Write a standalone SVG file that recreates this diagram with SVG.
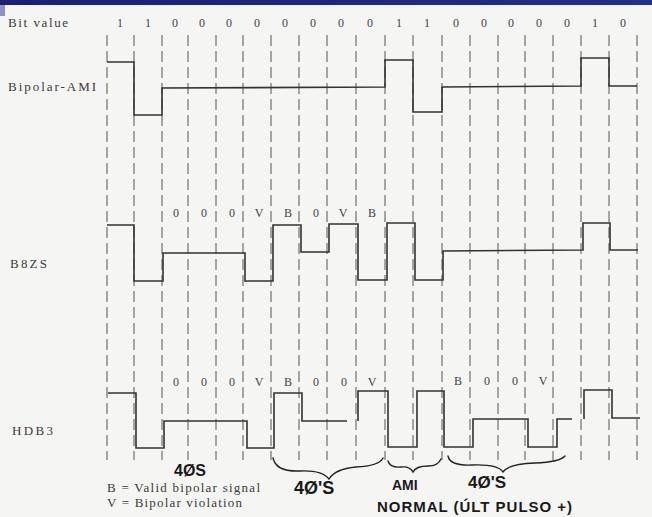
<svg xmlns="http://www.w3.org/2000/svg" width="652" height="517" viewBox="0 0 652 517">
  <defs>
    <linearGradient id="hdr" x1="0" y1="0" x2="1" y2="0">
      <stop offset="0" stop-color="#1b1f6e"/>
      <stop offset="1" stop-color="#23307f"/>
    </linearGradient>
    <style>
      .lbl{font-family:"Liberation Serif","DejaVu Serif",serif;font-size:13px;fill:#3a3a3a}
      .bit{font-family:"Liberation Serif","DejaVu Serif",serif;font-size:12px;fill:#444;text-anchor:middle}
      .grid line{stroke:#555;stroke-width:1;stroke-dasharray:11 5}
      .wave{fill:none;stroke:#333;stroke-width:1.6;stroke-linejoin:miter}
      .hand{font-family:"Liberation Sans","DejaVu Sans",sans-serif;fill:#1a1a1a;font-weight:bold}
      .brace{fill:none;stroke:#222;stroke-width:1.4;stroke-linecap:round}
    </style>
  </defs>
  <rect x="0" y="0" width="652" height="517" fill="#f5f5f3"/>
  <g id="header">
    <rect x="0" y="0" width="652" height="5" fill="url(#hdr)"/>
    <rect x="0" y="5" width="5" height="11" fill="#8a92c4"/>
  </g>

  <g id="bit-values">
    <text class="lbl" x="8" y="27" textLength="60">Bit value</text>
    <text class="bit" x="120" y="27">1</text>
    <text class="bit" x="148" y="27">1</text>
    <text class="bit" x="175" y="27">0</text>
    <text class="bit" x="202" y="27">0</text>
    <text class="bit" x="229" y="27">0</text>
    <text class="bit" x="257" y="27">0</text>
    <text class="bit" x="285" y="27">0</text>
    <text class="bit" x="313" y="27">0</text>
    <text class="bit" x="341" y="27">0</text>
    <text class="bit" x="370" y="27">0</text>
    <text class="bit" x="399" y="27">1</text>
    <text class="bit" x="427" y="27">1</text>
    <text class="bit" x="456" y="27">0</text>
    <text class="bit" x="484" y="27">0</text>
    <text class="bit" x="511" y="27">0</text>
    <text class="bit" x="539" y="27">0</text>
    <text class="bit" x="567" y="27">0</text>
    <text class="bit" x="595" y="27">1</text>
    <text class="bit" x="623" y="27">0</text>
  </g>

  <g id="grid" class="grid">
    <line x1="107" y1="35" x2="107" y2="460"/>
    <line x1="134" y1="35" x2="134" y2="460"/>
    <line x1="162" y1="35" x2="162" y2="460"/>
    <line x1="188" y1="35" x2="188" y2="460"/>
    <line x1="216" y1="35" x2="216" y2="460"/>
    <line x1="243" y1="35" x2="243" y2="460"/>
    <line x1="271" y1="35" x2="271" y2="460"/>
    <line x1="299" y1="35" x2="299" y2="460"/>
    <line x1="327" y1="35" x2="327" y2="460"/>
    <line x1="356" y1="35" x2="356" y2="460"/>
    <line x1="385" y1="35" x2="385" y2="460"/>
    <line x1="413" y1="35" x2="413" y2="460"/>
    <line x1="442" y1="35" x2="442" y2="460"/>
    <line x1="470" y1="35" x2="470" y2="460"/>
    <line x1="498" y1="35" x2="498" y2="460"/>
    <line x1="525" y1="35" x2="525" y2="460"/>
    <line x1="553" y1="35" x2="553" y2="460"/>
    <line x1="581" y1="35" x2="581" y2="460"/>
    <line x1="609" y1="35" x2="609" y2="460"/>
    <line x1="637" y1="35" x2="637" y2="460"/>
  </g>

  <g id="ami">
    <text class="lbl" x="8" y="91" textLength="88">Bipolar-AMI</text>
    <polyline class="wave" points="107,62 134,62 134,115 162,115 162,88 385,87 385,60 413,60 413,112 442,112 442,87 581,86 581,58 609,58 609,86 637,86"/>
  </g>

  <g id="b8zs">
    <text class="lbl" x="10" y="268" textLength="37">B8ZS</text>
    <text class="bit" x="176" y="217">0</text>
    <text class="bit" x="204" y="217">0</text>
    <text class="bit" x="232" y="217">0</text>
    <text class="bit" x="259" y="217">V</text>
    <text class="bit" x="288" y="217">B</text>
    <text class="bit" x="316" y="217">0</text>
    <text class="bit" x="343" y="217">V</text>
    <text class="bit" x="372" y="217">B</text>
    <polyline class="wave" points="107,225 134,225 134,281 163,281 163,253 245,253 245,281 273,281 273,225 301,225 301,252 329,252 329,224 358,224 358,280 387,280 387,223 415,223 415,280 443,280 443,251 583,250 583,223 610,223 610,250 638,250"/>
  </g>

  <g id="hdb3">
    <text class="lbl" x="12" y="435" textLength="41">HDB3</text>
    <text class="bit" x="176" y="386">0</text>
    <text class="bit" x="204" y="386">0</text>
    <text class="bit" x="232" y="386">0</text>
    <text class="bit" x="259" y="386">V</text>
    <text class="bit" x="288" y="386">B</text>
    <text class="bit" x="316" y="386">0</text>
    <text class="bit" x="344" y="386">0</text>
    <text class="bit" x="372" y="386">V</text>
    <text class="bit" x="458" y="385">B</text>
    <text class="bit" x="487" y="385">0</text>
    <text class="bit" x="515" y="385">0</text>
    <text class="bit" x="543" y="385">V</text>
    <polyline class="wave" points="108,393 136,393 136,448 164,448 164,421 247,421 247,448 274,448 274,393 302,393 302,421 347,421"/>
    <polyline class="wave" points="358,421 358,391 388,391 388,447 417,447 417,391 444,391 444,447 473,447 473,419 528,419 528,447 557,447 557,419 572,419"/>
    <polyline class="wave" points="584,419 584,390 612,390 612,418 640,418"/>
  </g>

  <g id="legend">
    <text class="lbl" x="107" y="492" textLength="153">B = Valid bipolar signal</text>
    <text class="lbl" x="107" y="507" textLength="135">V = Bipolar violation</text>
  </g>

  <g id="annotations">
    <path class="brace" d="M273,458 Q276,472 300,471 Q322,470 329,479 Q335,469 356,467 Q379,466 383,458"/>
    <path class="brace" d="M388,461 Q390,468 401,467 Q410,466 413,472 Q416,466 428,466 Q438,466 441,459"/>
    <path class="brace" d="M448,456 Q450,466 472,465 Q498,464 503,472 Q508,464 535,463 Q560,462 565,456"/>
    <text class="hand" x="174" y="476" font-size="16">4ØS</text>
    <text class="hand" x="294" y="494" font-size="18">4Ø'S</text>
    <text class="hand" x="392" y="490" font-size="14">AMI</text>
    <text class="hand" x="377" y="512" font-size="15" textLength="195">NORMAL (ÚLT PULSO +)</text>
    <text class="hand" x="468" y="488" font-size="17">4Ø'S</text>
  </g>
</svg>
